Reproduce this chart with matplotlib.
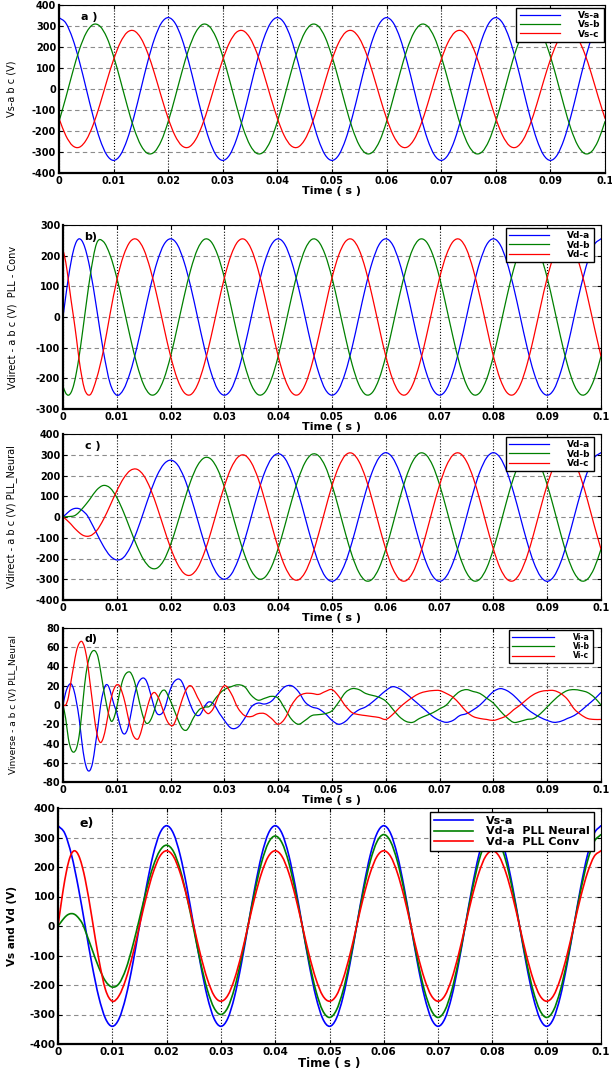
import numpy as np
import matplotlib
matplotlib.use("Agg")
import matplotlib.pyplot as plt
from matplotlib import font_manager as fm
from matplotlib.path import Path
from matplotlib.patches import PathPatch

# ---- data ----
# sample instants (s)
t_src = np.linspace(0, 0.1, 81)
t_pll = np.concatenate([np.linspace(0, 0.005, 11), np.linspace(0.00625, 0.1, 76)])
t_inv = np.concatenate([np.linspace(0, 0.03, 61), np.linspace(0.03125, 0.1, 56)])

xticks = [0, 0.01, 0.02, 0.03, 0.04, 0.05, 0.06, 0.07, 0.08, 0.09, 0.1]
xtick_labels = ["0", "0.01", "0.02", "0.03", "0.04", "0.05", "0.06", "0.07", "0.08", "0.09", "0.1"]

# a) source voltages
vs_a = [340, 314, 240, 130, 0, -130, -240, -314, -340, -314, -240, -130, 0, 130, 240, 314,
        340, 314, 240, 130, 0, -130, -240, -314, -340, -314, -240, -130, 0, 130, 240, 314,
        340, 314, 240, 130, 0, -130, -240, -314, -340, -314, -240, -130, 0, 130, 240, 314,
        340, 314, 240, 130, 0, -130, -240, -314, -340, -314, -240, -130, 0, 130, 240, 314,
        340, 314, 240, 130, 0, -130, -240, -314, -340, -314, -240, -130, 0, 130, 240, 314,
        340]
vs_b = [-155, -41, 80, 189, 268, 307, 299, 246, 155, 41, -80, -189, -268, -307, -299, -246,
        -155, -41, 80, 189, 268, 307, 299, 246, 155, 41, -80, -189, -268, -307, -299, -246,
        -155, -41, 80, 189, 268, 307, 299, 246, 155, 41, -80, -189, -268, -307, -299, -246,
        -155, -41, 80, 189, 268, 307, 299, 246, 155, 41, -80, -189, -268, -307, -299, -246,
        -155, -41, 80, 189, 268, 307, 299, 246, 155, 41, -80, -189, -268, -307, -299, -246,
        -155]
vs_c = [-140, -222, -270, -277, -242, -171, -73, 37, 140, 222, 270, 277, 242, 171, 73, -37,
        -140, -222, -270, -277, -242, -171, -73, 37, 140, 222, 270, 277, 242, 171, 73, -37,
        -140, -222, -270, -277, -242, -171, -73, 37, 140, 222, 270, 277, 242, 171, 73, -37,
        -140, -222, -270, -277, -242, -171, -73, 37, 140, 222, 270, 277, 242, 171, 73, -37,
        -140, -222, -270, -277, -242, -171, -73, 37, 140, 222, 270, 277, 242, 171, 73, -37,
        -140]

# b) direct sequence, conventional PLL
vd_conv_a = [0, 66, 128, 180, 221, 246, 255, 249, 230, 199, 159,
             28, -111, -216, -255,
             -236, -180, -98, 0, 98, 180, 236,
             255, 236, 180, 98, 0, -98, -180, -236, -255, -236, -180, -98, 0, 98, 180, 236,
             255, 236, 180, 98, 0, -98, -180, -236, -255, -236, -180, -98, 0, 98, 180, 236,
             255, 236, 180, 98, 0, -98, -180, -236, -255, -236, -180, -98, 0, 98, 180, 236,
             255, 236, 180, 98, 0, -98, -180, -236, -255, -236, -180, -98, 0, 98, 180, 236,
             255]
vd_conv_b = [-226, -248, -255, -246, -221, -180, -128, -66, 0, 66, 128,
             240, 246, 202, 128,
             33, -66, -155, -221, -253, -246, -202,
             -128, -33, 66, 155, 221, 253, 246, 202, 128, 33, -66, -155, -221, -253, -246, -202,
             -128, -33, 66, 155, 221, 253, 246, 202, 128, 33, -66, -155, -221, -253, -246, -202,
             -128, -33, 66, 155, 221, 253, 246, 202, 128, 33, -66, -155, -221, -253, -246, -202,
             -128, -33, 66, 155, 221, 253, 246, 202, 128, 33, -66, -155, -221, -253, -246, -202,
             -128]
vd_conv_c = [219, 180, 120, 55, -5, -70, -140, -195, -235, -252, -254,
             -200, -110, 10, 120, 200,
             246, 253, 221, 155, 66, -33,
             -128, -202, -246, -253, -221, -155, -66, 33, 128, 202, 246, 253, 221, 155, 66, -33,
             -128, -202, -246, -253, -221, -155, -66, 33, 128, 202, 246, 253, 221, 155, 66, -33,
             -128, -202, -246, -253, -221, -155, -66, 33, 128, 202, 246, 253, 221, 155, 66, -33,
             -128, -202, -246, -253, -221, -155, -66, 33, 128, 202, 246, 253, 221, 155, 66, -33,
             -128]

# c) direct sequence, neural PLL
vd_nn_a = [0, 12, 24, 34, 40, 42, 40, 33, 22, 8, -15,
           -78, -140, -187, -207,
           -195, -146, -68, 25, 120, 201, 255, 274,
           253, 191, 98, -12, -123, -216, -278, -300,
           -277, -211, -113, 2, 118, 216, 282, 305,
           282, 215, 115, -2, -120, -220, -287, -310,
           -286, -219, -119, 0, 119, 219, 286,
           310, 286, 219, 119, 0, -119, -219, -286, -310, -286, -219, -119, 0, 119, 219, 286,
           310, 286, 219, 119, 0, -119, -219, -286, -310, -286, -219, -119, 0, 119, 219, 286,
           310]
vd_nn_b = [0, 1, 2, 3, 5, 12, 24, 38, 53, 69, 86,
           130, 152, 140, 94,
           24, -59, -140, -206, -244, -246, -208, -133,
           -33, 75, 174, 248, 285, 279, 229, 144,
           35, -79, -182, -259, -297, -291, -240, -151,
           -40, 78, 184, 263, 302, 295, 244, 154,
           41, -79, -187, -267, -307,
           -299, -246,
           -155, -41, 80, 189, 268, 307, 299, 246, 155, 41, -80, -189, -268, -307, -299, -246,
           -155, -41, 80, 189, 268, 307, 299, 246, 155, 41, -80, -189, -268, -307, -299, -246,
           -155]
vd_nn_c = [0, -10, -22, -35, -50, -63, -75, -85, -91, -93, -91,
           -66, -13, 55, 126,
           186, 224, 230, 200, 136, 47, -53, -149,
           -225, -272, -280, -246, -173, -72, 41, 149,
           236, 288, 298, 262, 187, 82, -36, -148,
           -238, -293, -303, -267, -190, -83, 36, 151,
           242, 298,
           307, 268, 189, 80, -41,
           -155, -246, -299, -307, -268, -189, -80, 41, 155, 246, 299, 307, 268, 189, 80, -41,
           -155, -246, -299, -307, -268, -189, -80, 41, 155, 246, 299, 307, 268, 189, 80, -41,
           -155]

# d) inverse sequence, neural PLL
vi_a = [0, 13, 20, 22, 16, 3, -14, -38, -57, -67,
        -68, -60, -42, -22, 0, 14, 21, 19, 10, 0,
        -8, -19, -28, -30, -25, -13, 2, 15, 23, 27,
        28, 25, 17, 7, -3, -9, -10, -8, -2, 8,
        17, 23, 26, 27, 25, 19, 11, 3, -4, -9,
        -11, -10, -5, 0, 3, 3, 1, -3, -8, -12,
        -16,
        -24, -23, -14, -2, 2, 1, 4, 12,
        19, 20, 14, 3, -2, -4, -9, -16,
        -20, -17, -10, -5, -2, 3, 9, 15,
        19, 17, 12, 6, 0, -6, -12, -16,
        -18, -16, -11, -9, -5, 0, 7, 14,
        17, 15, 10, 3, -4, -9, -13, -16,
        -18, -17, -14, -11, -6, 0, 6, 13]
vi_b = [0, -14, -35, -46, -49, -45, -32, -8, 20, 40,
        51, 56, 56, 50, 35, 18, 3, -10, -17, -13,
        -2, 12, 24, 31, 34, 34, 29, 20, 8, -4,
        -14, -19, -18, -13, -5, 4, 11, 15, 15, 10,
        4, -3, -10, -17, -23, -26, -26, -22, -16, -11,
        -7, -4, -3, -2, -2, 0, 4, 8, 11, 14,
        16,
        19, 21, 19, 10, 5, 7, 9, 7,
        -4, -15, -20, -16, -11, -10, -9, -6,
        3, 13, 17, 16, 12, 10, 8, 4,
        -4, -12, -17, -18, -14, -11, -8, -4,
        0, 8, 14, 16, 14, 12, 7, 2,
        -6, -13, -18, -17, -15, -14, -9, -2,
        5, 11, 15, 16, 15, 13, 8, 0]
vi_c = [0, 0, 8, 25, 41, 56, 64, 66, 60, 46,
        24, 2, -20, -34, -39, -34, -22, -6, 8, 17,
        21, 20, 13, 3, -10, -22, -31, -35, -35, -28,
        -17, -6, 4, 11, 13, 10, 4, -4, -12, -18,
        -21, -21, -15, -6, 3, 11, 17, 20, 19, 14,
        8, 3, -3, -7, -9, -7, -3, 4, 11, 17,
        20,
        12, -3, -11, -12, -9, -9, -14, -20,
        -14, 0, 9, 12, 12, 11, 14, 16,
        9, -1, -8, -10, -11, -12, -13, -15,
        -10, -3, 3, 8, 12, 14, 15, 15,
        12, 8, 1, -7, -12, -14, -15, -16,
        -14, -11, -5, 0, 6, 11, 14, 15,
        15, 12, 6, -4, -10, -14, -15, -15]

BLUE, GREEN, RED = "#0000ff", "#008000", "#ff0000"

names = {f.name for f in fm.fontManager.ttflist}
NARROW = "Liberation Sans Narrow" if "Liberation Sans Narrow" in names else "DejaVu Sans"


def curve(ax, t, y, color, lw, label):
    # draw the sampled trace as a smooth bezier path through the read points
    t = np.asarray(t, float)
    y = np.asarray(y, float)
    m = np.gradient(y, t)
    verts = [(t[0], y[0])]
    codes = [Path.MOVETO]
    for i in range(len(t) - 1):
        h = (t[i + 1] - t[i]) / 3
        verts += [(t[i] + h, y[i] + h * m[i]),
                  (t[i + 1] - h, y[i + 1] - h * m[i + 1]),
                  (t[i + 1], y[i + 1])]
        codes += [Path.CURVE4] * 3
    ax.add_patch(PathPatch(Path(verts, codes), fill=False, edgecolor=color, lw=lw,
                           zorder=2, joinstyle="round", capstyle="round"))
    ax.plot([], [], color=color, lw=lw, label=label)


def setup(ax, yt, ylabel, tag, ylab_x, ylab_kw=None):
    ax.set_xlim(0, 0.1)
    ax.set_ylim(yt[0], yt[-1])
    ax.set_xticks(xticks)
    ax.set_xticklabels(xtick_labels)
    ax.set_yticks(yt)
    ax.set_yticklabels([str(v) for v in yt])
    ax.grid(axis="x", color="k", linestyle=":", linewidth=0.8)
    ax.grid(axis="y", color="0.55", linestyle=(0, (4, 3)), linewidth=0.8)
    ax.tick_params(direction="in", length=3, width=0.8, top=True, right=True,
                   labelsize=7, pad=2)
    for lab in ax.get_xticklabels() + ax.get_yticklabels():
        lab.set_fontweight("bold")
    for s in ("left", "bottom"):
        ax.spines[s].set_linewidth(1.6)
    for s in ("top", "right"):
        ax.spines[s].set_linewidth(0.8)
    ax.set_xlabel("Time ( s )", fontsize=8, fontweight="bold", labelpad=0)
    kw = dict(fontsize=7, family=NARROW)
    if ylab_kw:
        kw.update(ylab_kw)
    ax.set_ylabel(ylabel, **kw)
    ax.yaxis.set_label_coords(ylab_x, 0.5)
    ax.text(0.04, 0.96, tag, transform=ax.transAxes, ha="left", va="top",
            fontsize=8, fontweight="bold")


def legend(ax, anchor, size=6.5, hl=4.5, pad=2.0):
    ax.legend(loc="upper right", bbox_to_anchor=anchor, borderaxespad=0,
              prop={"weight": "bold", "size": size}, frameon=True,
              fancybox=False, edgecolor="k", framealpha=1,
              handlelength=hl, labelspacing=0.05, borderpad=0.35, handletextpad=pad)


fig = plt.figure(figsize=(6.12, 10.69), dpi=100)
W, H = 612.0, 1069.0


def add_axes(left, right, top, bottom):
    return fig.add_axes([left / W, 1 - bottom / H, (right - left) / W, (bottom - top) / H])


lw = 0.9

# a)
ax = add_axes(59, 605, 5, 173)
curve(ax, t_src, vs_a, BLUE, lw, "Vs-a")
curve(ax, t_src, vs_b, GREEN, lw, "Vs-b")
curve(ax, t_src, vs_c, RED, lw, "Vs-c")
setup(ax, list(range(-400, 401, 100)), "Vs-a b c (V)", "a )", -0.078)
legend(ax, (0.998, 0.985))

# b)
ax = add_axes(63, 601, 225, 409)
curve(ax, t_pll, vd_conv_a, BLUE, lw, "Vd-a")
curve(ax, t_pll, vd_conv_b, GREEN, lw, "Vd-b")
curve(ax, t_pll, vd_conv_c, RED, lw, "Vd-c")
setup(ax, list(range(-300, 301, 100)), "Vdirect - a b c (V)  PLL - Conv", "b)", -0.085)
legend(ax, (0.987, 0.984))

# c)
ax = add_axes(63, 601, 434, 600)
curve(ax, t_pll, vd_nn_a, BLUE, lw, "Vd-a")
curve(ax, t_pll, vd_nn_b, GREEN, lw, "Vd-b")
curve(ax, t_pll, vd_nn_c, RED, lw, "Vd-c")
setup(ax, list(range(-400, 401, 100)), "Vdirect - a b c (V) PLL_Neural", "c )", -0.085)
legend(ax, (0.987, 0.982))

# d)
ax = add_axes(63, 601, 628, 782)
curve(ax, t_inv, vi_a, BLUE, lw, "Vi-a")
curve(ax, t_inv, vi_b, GREEN, lw, "Vi-b")
curve(ax, t_inv, vi_c, RED, lw, "Vi-c")
setup(ax, list(range(-80, 81, 20)), "Vinverse - a b c (V) PLL_Neural", "d)", -0.085,
      dict(fontsize=6.5))
legend(ax, (0.985, 0.987), size=5.5, hl=5.5, pad=2.5)

# e)
ax = add_axes(58, 601, 808, 1044)
curve(ax, t_src, vs_a, BLUE, 1.2, "Vs-a")
curve(ax, t_pll, vd_nn_a, GREEN, 1.2, "Vd-a  PLL Neural")
curve(ax, t_pll, vd_conv_a, RED, 1.2, "Vd-a  PLL Conv")
setup(ax, list(range(-400, 401, 100)), "Vs and Vd (V)", "e)", -0.075,
      dict(fontsize=7.5, fontweight="bold", family="DejaVu Sans"))
ax.tick_params(labelsize=7.5)
for lab in ax.get_xticklabels() + ax.get_yticklabels():
    lab.set_fontweight("bold")
ax.xaxis.label.set_fontsize(8.5)
ax.texts[0].set_fontsize(9)
legend(ax, (0.987, 0.983), size=8, hl=3.5, pad=1.2)

fig.savefig("out.png", dpi=100)
